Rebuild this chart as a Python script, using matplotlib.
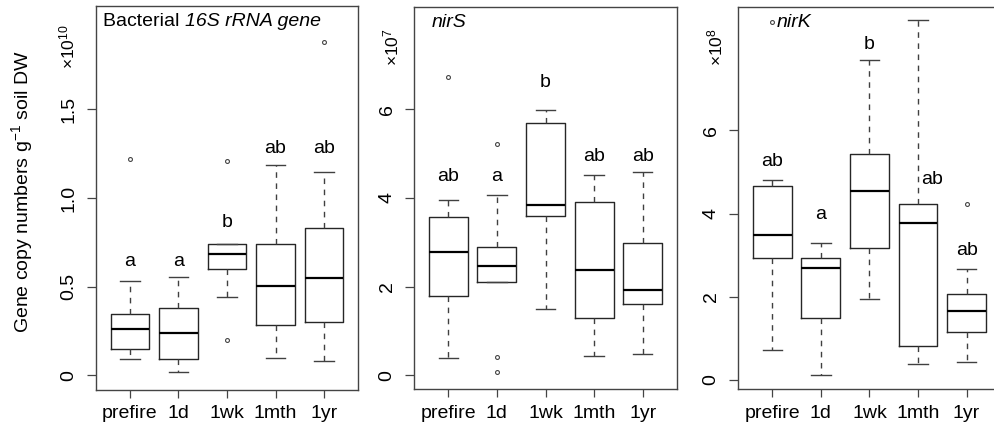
import matplotlib
matplotlib.use("Agg")
import matplotlib.pyplot as plt

plt.rcParams['font.family'] = ['Liberation Sans', 'DejaVu Sans']
plt.rcParams['mathtext.fontset'] = 'custom'
plt.rcParams['mathtext.rm'] = 'Liberation Sans'
plt.rcParams['mathtext.it'] = 'Liberation Sans:italic'

categories = ["prefire", "1d", "1wk", "1mth", "1yr"]

# Panel 1: Bacterial 16S rRNA gene (x1e10)
p1_whislo = [0.092, 0.020, 0.443, 0.098, 0.082]
p1_q1 = [0.147, 0.092, 0.600, 0.284, 0.301]
p1_med = [0.261, 0.237, 0.684, 0.504, 0.547]
p1_q3 = [0.344, 0.381, 0.742, 0.742, 0.833]
p1_whishi = [0.534, 0.554, 0.742, 1.186, 1.145]
p1_fliers = [[1.218], [], [1.209, 0.197], [], [1.880]]
p1_letters = ["a", "a", "b", "ab", "ab"]
p1_letter_y = [0.64, 0.64, 0.86, 1.28, 1.28]

# Panel 2: nirS (x1e7)
p2_whislo = [0.39, 2.10, 1.50, 0.43, 0.47]
p2_q1 = [1.79, 2.10, 3.59, 1.29, 1.60]
p2_med = [2.79, 2.46, 3.84, 2.38, 1.93]
p2_q3 = [3.57, 2.89, 5.68, 3.91, 2.99]
p2_whishi = [3.95, 4.06, 5.99, 4.51, 4.59]
p2_fliers = [[6.72], [5.22, 0.41, 0.08], [], [], []]
p2_letters = ["ab", "a", "b", "ab", "ab"]
p2_letter_y = [4.48, 4.48, 6.59, 4.93, 4.93]

# Panel 3: nirK (x1e8)
p3_whislo = [0.71, 0.11, 1.94, 0.38, 0.43]
p3_q1 = [2.93, 1.48, 3.18, 0.82, 1.15]
p3_med = [3.48, 2.68, 4.55, 3.77, 1.66]
p3_q3 = [4.65, 2.93, 5.43, 4.24, 2.07]
p3_whishi = [4.80, 3.29, 7.69, 8.64, 2.66]
p3_fliers = [[8.61], [], [], [], [4.24]]
p3_letters = ["ab", "a", "b", "ab", "ab"]
p3_letter_y = [5.26, 3.97, 8.05, 4.81, 3.11]
p3_letter_dx = [0, 0, 0, 0.28, 0]

W, H = 994, 432
fig = plt.figure(figsize=(W / 100, H / 100), dpi=100)

FS = 14
box_c = '#262626'
wh_c = '#404040'


def make_ax(left, right, top, bottom):
    return fig.add_axes([left / W, 1 - bottom / H, (right - left) / W, (bottom - top) / H])


def draw(ax, whislo, q1, med, q3, whishi, fliers, yticks, yticklabels, ylim):
    stats = []
    for i in range(len(categories)):
        stats.append(dict(whislo=whislo[i], q1=q1[i], med=med[i], q3=q3[i],
                          whishi=whishi[i], fliers=fliers[i], label=categories[i]))
    ax.bxp(stats, positions=range(1, len(categories) + 1), widths=0.8,
           showfliers=True,
           boxprops=dict(color=box_c, linewidth=1.0),
           medianprops=dict(color='black', linewidth=1.6),
           whiskerprops=dict(color=wh_c, linewidth=1.0, linestyle=(0, (4, 4))),
           capprops=dict(color=wh_c, linewidth=1.0),
           capwidths=0.4,
           flierprops=dict(marker='o', markersize=2.8, markerfacecolor='none',
                           markeredgecolor='#444444', markeredgewidth=0.8))
    ax.set_xlim(0.3, 5.7)
    ax.set_ylim(*ylim)
    ax.set_yticks(yticks)
    ax.set_yticklabels(yticklabels, rotation=90, va='center')
    ax.set_xticks(range(1, len(categories) + 1))
    ax.set_xticklabels(categories)
    ax.tick_params(axis='y', length=6.5, width=0.9, pad=7, labelsize=FS, color='#444444')
    ax.tick_params(axis='x', length=6, width=0.9, pad=5, labelsize=FS, color='#444444')
    for s in ax.spines.values():
        s.set_color('#444444')
        s.set_linewidth(1.0)


ax1 = make_ax(96, 358, 6, 390)
draw(ax1, p1_whislo, p1_q1, p1_med, p1_q3, p1_whishi, p1_fliers,
     [0, 0.5, 1.0, 1.5], ["0", "0.5", "1.0", "1.5"], (-0.083, 2.083))
for i, (t, y) in enumerate(zip(p1_letters, p1_letter_y)):
    ax1.text(i + 1, y, t, ha='center', va='center', fontsize=FS)
t1 = ax1.text(0.027, 0.96, "Bacterial ", transform=ax1.transAxes,
              ha='left', va='center', fontsize=FS)
ax1.annotate("16S rRNA gene", xy=(1, 0.5), xycoords=t1, ha='left', va='center',
             fontsize=FS, style='italic')

ax2 = make_ax(414.3, 676.7, 6.7, 389.3)
draw(ax2, p2_whislo, p2_q1, p2_med, p2_q3, p2_whishi, p2_fliers,
     [0, 2, 4, 6], ["0", "2", "4", "6"], (-0.316, 8.31))
for i, (t, y) in enumerate(zip(p2_letters, p2_letter_y)):
    ax2.text(i + 1, y, t, ha='center', va='center', fontsize=FS)
ax2.text(0.065, 0.96, "nirS", style='italic', transform=ax2.transAxes,
         ha='left', va='center', fontsize=FS)

ax3 = make_ax(738.3, 1000.6, 6.7, 389.3)
draw(ax3, p3_whislo, p3_q1, p3_med, p3_q3, p3_whishi, p3_fliers,
     [0, 2, 4, 6], ["0", "2", "4", "6"], (-0.224, 8.97))
for i, (t, y) in enumerate(zip(p3_letters, p3_letter_y)):
    ax3.text(i + 1 + p3_letter_dx[i], y, t, ha='center', va='center', fontsize=FS)
ax3.text(0.145, 0.96, "nirK", style='italic', transform=ax3.transAxes,
         ha='left', va='center', fontsize=FS)

# multiplier labels
for x, lab in [(67, r"×10$^{10}$"), (391.7, r"×10$^{7}$"), (715, r"×10$^{8}$")]:
    fig.text(x / W, 1 - 47 / H, lab, rotation=90, ha='center', va='center', fontsize=FS - 1.5)

fig.text(22 / W, 1 - 192 / H, r"Gene copy numbers g$^{-1}$ soil DW", rotation=90,
         ha='center', va='center', fontsize=FS)

fig.savefig("out.png", dpi=100)
